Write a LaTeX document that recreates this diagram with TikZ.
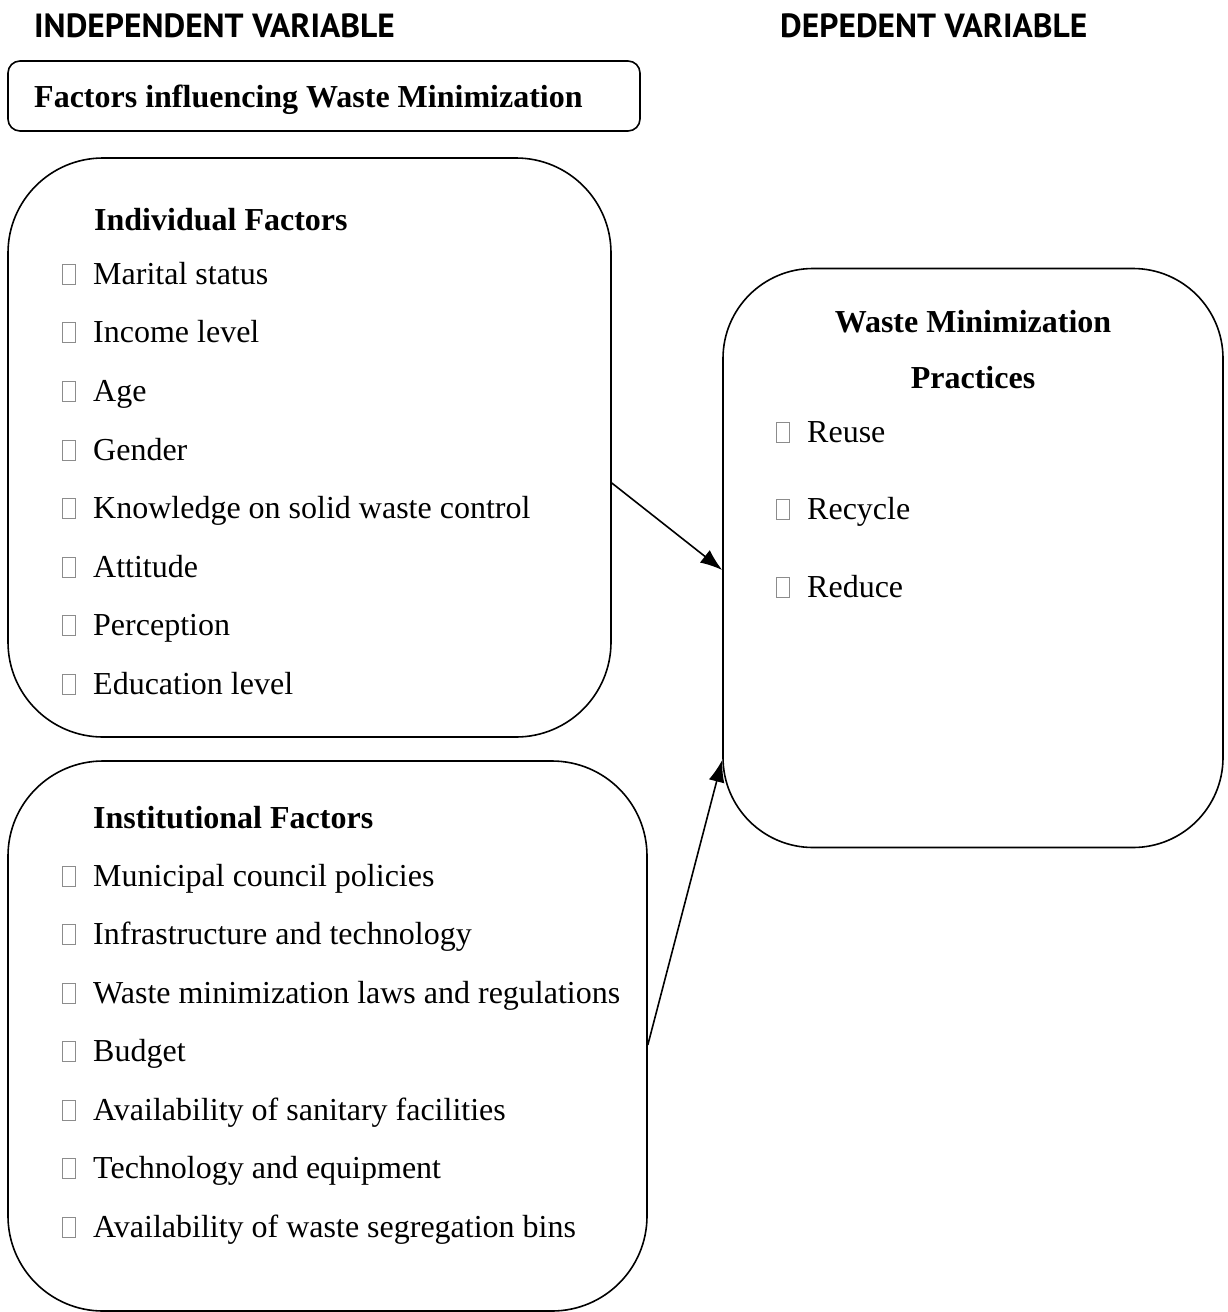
\documentclass[tikz,border=0pt]{standalone}
\usepackage{fontspec}
\setmainfont{Liberation Serif}
\newfontfamily\hdfont{PT Sans}
\usetikzlibrary{arrows.meta}
\newcommand\bul{{\color{black!45}\fboxsep=0pt\fboxrule=1pt\fbox{\rule{0pt}{19pt}\rule{12pt}{0pt}}}\hspace{17pt}}
\tikzset{
  box/.style={draw, line width=1.6pt, minimum width=#1},
  hdr/.style={anchor=base west, inner sep=0pt, font=\hdfont\bfseries\fontsize{33.5}{40}\selectfont},
  txt/.style={anchor=base west, inner sep=0pt, font=\fontsize{32}{38}\selectfont},
  btxt/.style={txt, font=\bfseries\fontsize{32}{38}\selectfont},
  arr/.style={line width=1.6pt, -{Latex[length=22pt,width=16pt]}}
}
\begin{document}
\begin{tikzpicture}[x=1pt,y=-1pt]
\useasboundingbox (0,0) rectangle (1228,1312);
\fill[white] (0,0) rectangle (1228,1312);

\node[hdr] (h1) at (34,37) {INDEPENDENT VARIABLE};
\node[hdr] (h2) at (780,37) {DEPEDENT VARIABLE};

\node[box=632, minimum height=70, rounded corners=12] (top) at (324,96) {};
\node[btxt] (topt) at (34,107) {Factors influencing Waste Minimization};

\node[box=603, minimum height=579, rounded corners=95] (ind) at (309.5,447.5) {};
\node[btxt] (indh) at (94,230) {Individual Factors};
\node[txt] (i1) at (62,284) {\bul Marital status};
\node[txt] (i2) at (62,342) {\bul Income level};
\node[txt] (i3) at (62,401) {\bul Age};
\node[txt] (i4) at (62,460) {\bul Gender};
\node[txt] (i5) at (62,518) {\bul Knowledge on solid waste control};
\node[txt] (i6) at (62,577) {\bul Attitude};
\node[txt] (i7) at (62,635) {\bul Perception};
\node[txt] (i8) at (62,694) {\bul Education level};

\node[box=639, minimum height=550, rounded corners=95] (ins) at (327.5,1036) {};
\node[btxt] (insh) at (93,828) {Institutional Factors};
\node[txt] (n1) at (62,886) {\bul Municipal council policies};
\node[txt] (n2) at (62,944) {\bul Infrastructure and technology};
\node[txt] (n3) at (62,1003) {\bul Waste minimization laws and regulations};
\node[txt] (n4) at (62,1061) {\bul Budget};
\node[txt] (n5) at (62,1120) {\bul Availability of sanitary facilities};
\node[txt] (n6) at (62,1178) {\bul Technology and equipment};
\node[txt] (n7) at (62,1237) {\bul Availability of waste segregation bins};

\node[box=500, minimum height=579, rounded corners=90] (wmp) at (973,558) {};
\node[btxt, anchor=base] (wh1) at (973,332) {Waste Minimization};
\node[btxt, anchor=base] (wh2) at (973,388) {Practices};
\node[txt] (w1) at (776,442) {\bul Reuse};
\node[txt] (w2) at (776,519) {\bul Recycle};
\node[txt] (w3) at (776,597) {\bul Reduce};

\draw[arr] (ind.east |- 0,483) -- (wmp.west |- 0,570);
\draw[arr] (ins.east |- 0,1045) -- (wmp.west |- 0,760);
\end{tikzpicture}
\end{document}
